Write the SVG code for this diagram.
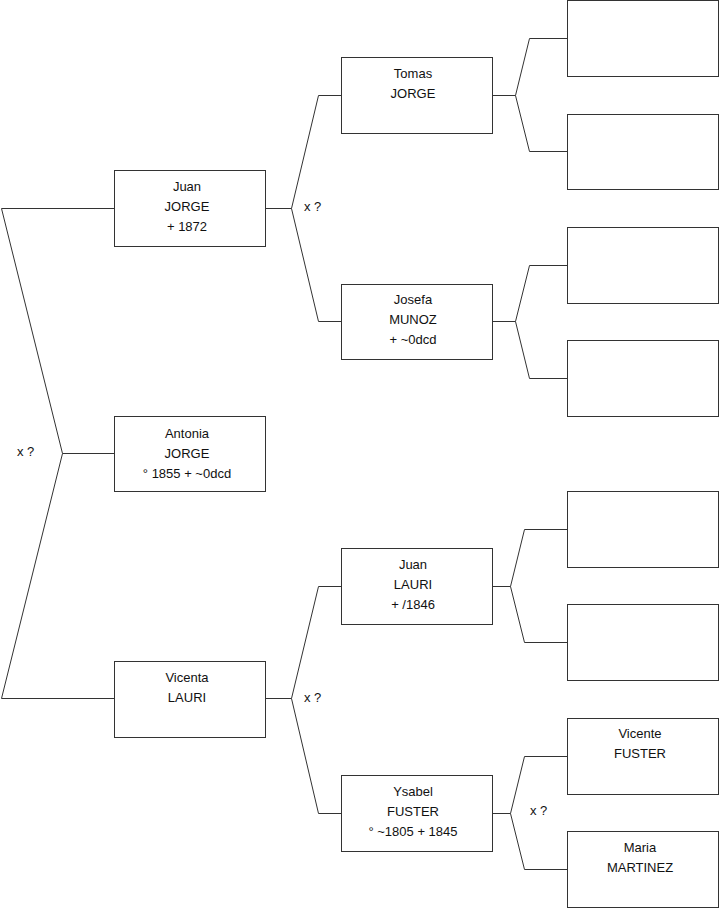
<svg xmlns="http://www.w3.org/2000/svg" width="719" height="908" viewBox="0 0 719 908">
<style>
.box{fill:#fff;stroke:#333;stroke-width:1}
.ln{fill:none;stroke:#333;stroke-width:1}
text{font-family:"Liberation Sans",Arial,sans-serif;font-size:13px;fill:#111;text-anchor:middle}
.lbl{text-anchor:start}
</style>
<rect width="719" height="908" fill="#fff"/>
<g id="connectors">
<path class="ln" d="M114.5,208.5 H1.5 L62.5,453.5 L1.5,698.5 H114.5 M62.5,453.5 H114.5"/>
<path class="ln" d="M265.5,208.5 H291.5 M341.5,95.5 H318.5 L291.5,208.5 L318.5,321.5 H341.5"/>
<path class="ln" d="M265.5,698.5 H291.5 M341.5,586.5 H318.5 L291.5,698.5 L318.5,813.5 H341.5"/>
<path class="ln" d="M492.5,95.5 H515.5 M567.5,38.5 H529.5 L515.5,95.5 L529.5,151.5 H567.5"/>
<path class="ln" d="M492.5,321.5 H515.5 M567.5,265.5 H529.5 L515.5,321.5 L529.5,378.5 H567.5"/>
<path class="ln" d="M492.5,586.5 H510.5 M567.5,529.5 H524.5 L510.5,586.5 L524.5,642.5 H567.5"/>
<path class="ln" d="M492.5,813.5 H510.5 M567.5,756.5 H524.5 L510.5,813.5 L524.5,869.5 H567.5"/>
<text class="lbl" x="17" y="456">x ?</text>
<text class="lbl" x="304" y="211">x ?</text>
<text class="lbl" x="304" y="702">x ?</text>
<text class="lbl" x="530" y="815">x ?</text>
</g>
<g id="n-antonia"><rect class="box" x="114.5" y="416.5" width="151" height="75"/><text x="187" y="438">Antonia</text><text x="187" y="458">JORGE</text><text x="187" y="478">° 1855 + ~0dcd</text></g>
<g id="n-juan-jorge"><rect class="box" x="114.5" y="170.5" width="151" height="76"/><text x="187" y="191">Juan</text><text x="187" y="211">JORGE</text><text x="187" y="231">+ 1872</text></g>
<g id="n-vicenta"><rect class="box" x="114.5" y="661.5" width="151" height="76"/><text x="187" y="682">Vicenta</text><text x="187" y="702">LAURI</text></g>
<g id="n-tomas"><rect class="box" x="341.5" y="57.5" width="151" height="76"/><text x="413" y="78">Tomas</text><text x="413" y="98">JORGE</text></g>
<g id="n-josefa"><rect class="box" x="341.5" y="284.5" width="151" height="75"/><text x="413" y="304">Josefa</text><text x="413" y="324">MUNOZ</text><text x="413" y="344">+ ~0dcd</text></g>
<g id="n-juan-lauri"><rect class="box" x="341.5" y="548.5" width="151" height="76"/><text x="413" y="569">Juan</text><text x="413" y="589">LAURI</text><text x="413" y="609">+ /1846</text></g>
<g id="n-ysabel"><rect class="box" x="341.5" y="775.5" width="151" height="76"/><text x="413" y="796">Ysabel</text><text x="413" y="816">FUSTER</text><text x="413" y="836">° ~1805 + 1845</text></g>
<g id="n-g3-1"><rect class="box" x="567.5" y="0.5" width="151" height="76"/></g>
<g id="n-g3-2"><rect class="box" x="567.5" y="114.5" width="151" height="75"/></g>
<g id="n-g3-3"><rect class="box" x="567.5" y="227.5" width="151" height="76"/></g>
<g id="n-g3-4"><rect class="box" x="567.5" y="340.5" width="151" height="76"/></g>
<g id="n-g3-5"><rect class="box" x="567.5" y="491.5" width="151" height="76"/></g>
<g id="n-g3-6"><rect class="box" x="567.5" y="604.5" width="151" height="76"/></g>
<g id="n-vicente"><rect class="box" x="567.5" y="718.5" width="151" height="76"/><text x="640" y="738">Vicente</text><text x="640" y="758">FUSTER</text></g>
<g id="n-maria"><rect class="box" x="567.5" y="831.5" width="151" height="76"/><text x="640" y="852">Maria</text><text x="640" y="872">MARTINEZ</text></g>
</svg>
